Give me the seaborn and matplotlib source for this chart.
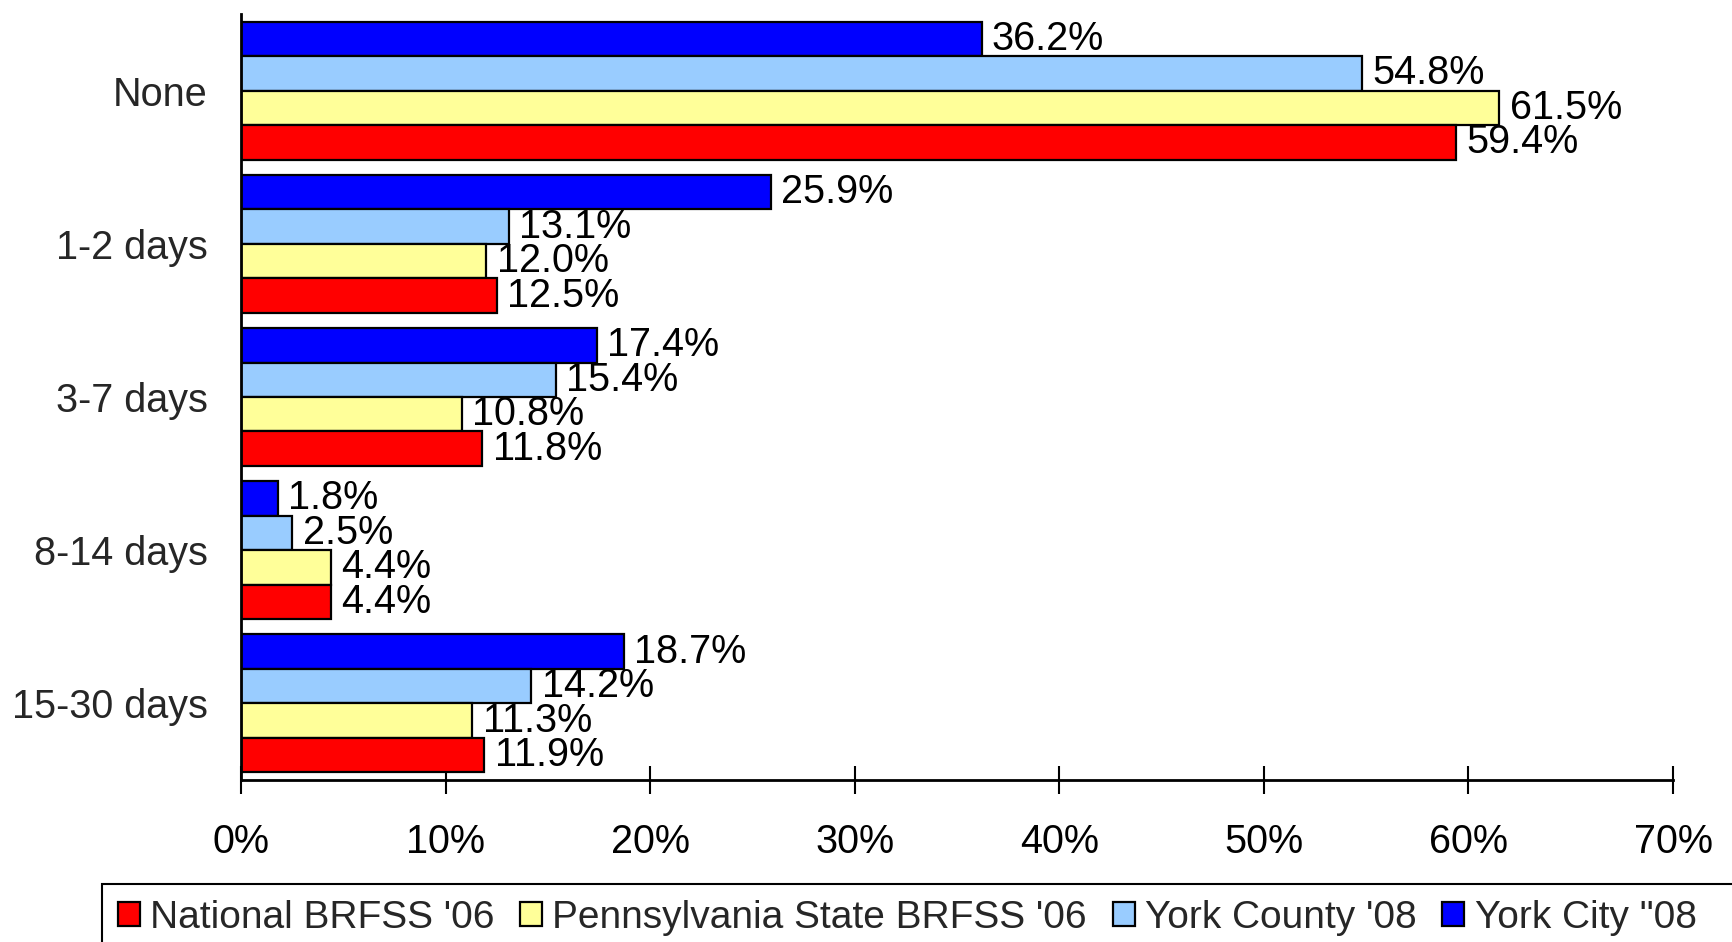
import matplotlib
matplotlib.use("Agg")
import matplotlib.pyplot as plt
import matplotlib.patches as mpatches
import seaborn as sns
import pandas as pd

categories = ["None", "1-2 days", "3-7 days", "8-14 days", "15-30 days"]
series_names = ["National BRFSS '06", "Pennsylvania State BRFSS '06", "York County '08", 'York City "08']
national = [59.4, 12.5, 11.8, 4.4, 11.9]
pennsylvania = [61.5, 12.0, 10.8, 4.4, 11.3]
york_county = [54.8, 13.1, 15.4, 2.5, 14.2]
york_city = [36.2, 25.9, 17.4, 1.8, 18.7]
x_ticks = [0, 10, 20, 30, 40, 50, 60, 70]
x_tick_labels = ["0%", "10%", "20%", "30%", "40%", "50%", "60%", "70%"]
colors = {series_names[0]: "#FF0000", series_names[1]: "#FFFF99",
          series_names[2]: "#99CCFF", series_names[3]: "#0000FF"}

rows = []
for name, vals in zip(series_names, [national, pennsylvania, york_county, york_city]):
    for c, v in zip(categories, vals):
        rows.append({"category": c, "series": name, "value": v})
df = pd.DataFrame(rows)

sns.set_style("white")
plt.rcParams["font.family"] = ["Liberation Sans", "DejaVu Sans"]
FS = 28.5

fig = plt.figure(figsize=(17.32, 9.42), dpi=100)
ax = fig.add_axes([241/1732, 1 - 780/942, (1673-241)/1732, (780-14)/942])

hue_order = series_names[::-1]  # York City at top of each group
sns.barplot(data=df, y="category", x="value", hue="series", order=categories,
            hue_order=hue_order, palette=colors, orient="h", width=0.9, gap=0,
            edgecolor="black", linewidth=1.6, ax=ax, saturation=1)

for cont in ax.containers:
    ax.bar_label(cont, fmt="%.1f%%", padding=7.5, fontsize=FS, color="black")

ax.set_xlim(0, 70)
ax.set_ylim(4.5, -0.5)
ax.set_xticks(x_ticks)
ax.set_xticklabels(x_tick_labels, fontsize=FS)
ax.tick_params(axis="x", bottom=True, direction="inout", length=20, width=1.5,
               pad=21, colors="black")
ax.tick_params(axis="y", left=False, length=0, pad=24, labelsize=FS)
ax.set_xlabel("")
ax.set_ylabel("")
for s in ["top", "right"]:
    ax.spines[s].set_visible(False)
for s in ["left", "bottom"]:
    ax.spines[s].set_color("black")
    ax.spines[s].set_linewidth(2)

handles, labels = ax.get_legend_handles_labels()
if ax.get_legend() is not None:
    ax.get_legend().remove()
hmap = dict(zip(labels, handles))

# legend frame runs off the right and bottom edges of the figure
frame = mpatches.Rectangle((102/1732, -0.05), 1.0, (1 - 884/942) + 0.05,
                           transform=fig.transFigure, facecolor="none",
                           edgecolor="black", linewidth=1.5)
fig.add_artist(frame)

leg = fig.legend([hmap[n] for n in series_names], series_names,
                 loc="upper left", bbox_to_anchor=(102/1732, 1 - 884/942),
                 bbox_transform=fig.transFigure, ncol=4, fontsize=28,
                 frameon=False, borderaxespad=0,
                 handlelength=0.57, handleheight=0.57, handletextpad=0.26,
                 columnspacing=0.66, borderpad=0.4)

fig.savefig("out.png", dpi=100)
